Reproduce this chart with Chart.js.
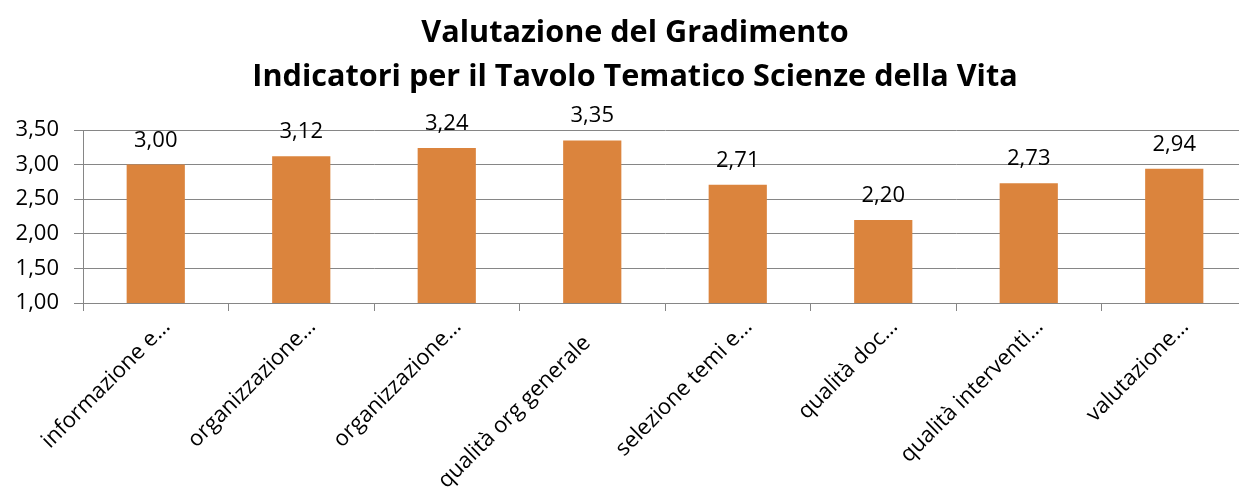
<!DOCTYPE html>
<html>
<head>
<meta charset="utf-8">
<script src="https://cdn.jsdelivr.net/npm/chart.js@4"></script>
<style>
html,body{margin:0;padding:0;background:#fff;overflow:hidden;}
#wrap{width:1270px;height:493px;}
</style>
</head>
<body>
<div id="wrap"><canvas id="c" width="1270" height="493"></canvas></div>
<script>
const titleLines = ['Valutazione del Gradimento', 'Indicatori per il Tavolo Tematico Scienze della Vita'];
const categories = ['informazione e…', 'organizzazione…', 'organizzazione…', 'qualità org generale', 'selezione temi e…', 'qualità doc…', 'qualità interventi…', 'valutazione…'];
const values = [3.00, 3.12, 3.24, 3.35, 2.71, 2.20, 2.73, 2.94];
const yMin = 1.0, yMax = 3.5, yStep = 0.5;

const FONT = '"Open Sans"';
const fmt = v => v.toFixed(2).replace('.', ',');

const valueLabels = {
  id: 'valueLabels',
  afterDatasetsDraw(chart) {
    const ctx = chart.ctx;
    const meta = chart.getDatasetMeta(0);
    ctx.save();
    ctx.font = '22px ' + FONT;
    ctx.fillStyle = '#000';
    ctx.textAlign = 'center';
    ctx.textBaseline = 'alphabetic';
    meta.data.forEach((bar, i) => {
      ctx.fillText(fmt(values[i]), bar.x, bar.y - 18);
    });
    ctx.restore();
  }
};

new Chart(document.getElementById('c'), {
  type: 'bar',
  data: {
    labels: categories,
    datasets: [{
      data: values,
      backgroundColor: '#DB843D',
      borderWidth: 0,
      barPercentage: 0.4,
      categoryPercentage: 1.0
    }]
  },
  options: {
    responsive: false,
    animation: false,
    layout: { padding: 0 },
    plugins: {
      legend: { display: false },
      tooltip: { enabled: false },
      title: {
        display: true,
        text: titleLines,
        color: '#000',
        font: { family: FONT, size: 30.6, weight: 'bold', lineHeight: 1.438 },
        padding: { top: 11, bottom: 31 }
      }
    },
    scales: {
      x: {
        offset: true,
        grid: { display: true, offset: true, drawOnChartArea: false, drawTicks: true, tickLength: 8, color: '#868686' },
        border: { display: true, color: '#868686' },
        ticks: {
          color: '#000', font: { family: FONT, size: 22 },
          minRotation: 45, maxRotation: 45, autoSkip: false,
          padding: 3, labelOffset: 11,
          // Excel sets the un-truncated label slightly further along its diagonal
          callback(v, i) { const l = this.getLabelForValue(v); return l.endsWith('…') ? l : l + '    '; }
        },
        afterFit(s) { s.height = 190; }
      },
      y: {
        min: yMin, max: yMax,
        grid: { color: '#868686', tickLength: 9 },
        border: { display: true, color: '#868686' },
        ticks: {
          stepSize: yStep, color: '#000', font: { family: FONT, size: 22 }, padding: 15,
          callback: v => fmt(v)
        },
        afterFit(s) { s.width = 83; }
      },
      yRight: {
        position: 'right',
        display: true,
        grid: { display: false, drawTicks: false },
        border: { display: false },
        ticks: { display: false },
        afterFit(s) { s.width = 23; }
      }
    }
  },
  plugins: [valueLabels]
});
</script>
</body>
</html>
